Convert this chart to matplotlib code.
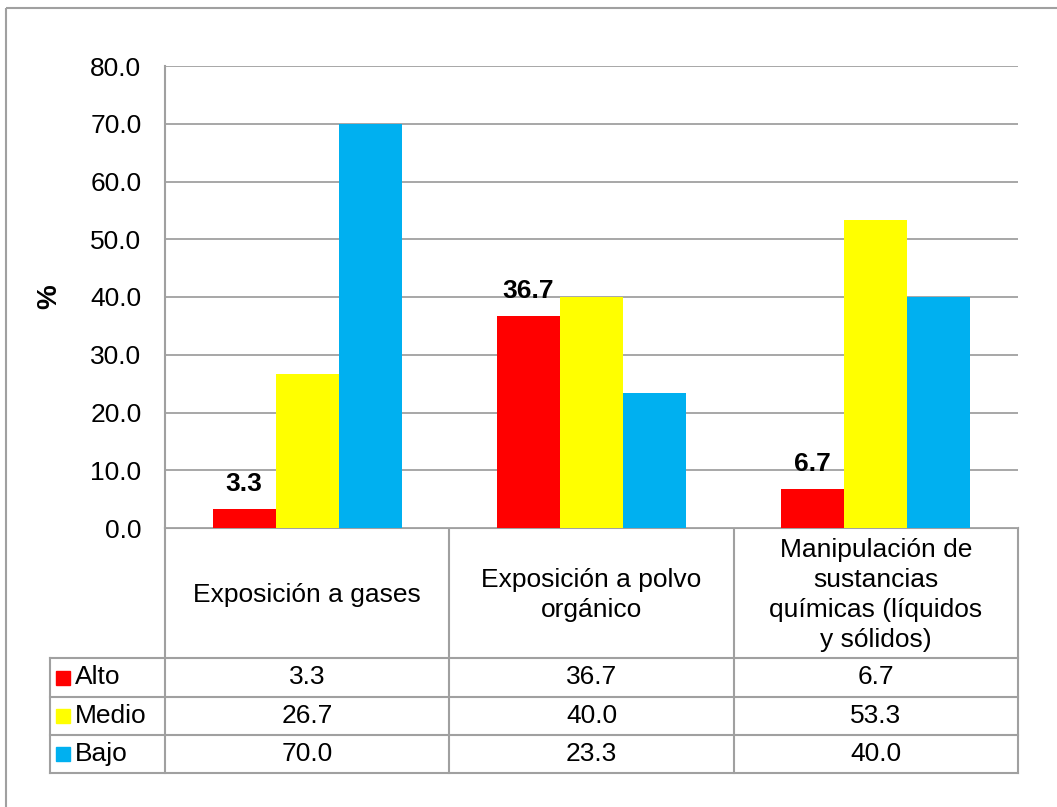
import matplotlib.pyplot as plt
from matplotlib.patches import Rectangle
import numpy as np

plt.rcParams['font.family'] = ['Liberation Sans', 'DejaVu Sans']

categories = ['Exposición a gases', 'Exposición a polvo\norgánico',
              'Manipulación de\nsustancias\nquímicas (líquidos\ny sólidos)']
series = ['Alto', 'Medio', 'Bajo']
alto = [3.3, 36.7, 6.7]
medio = [26.7, 40.0, 53.3]
bajo = [70.0, 23.3, 40.0]
colors = ['#FF0000', '#FFFF00', '#00B0F0']
yticks = [0, 10, 20, 30, 40, 50, 60, 70, 80]

W, H = 1057, 807
fig = plt.figure(figsize=(W / 100, H / 100), dpi=100)
fig.patch.set_facecolor('white')

grey = '#A0A0A0'
fs = 19

# overlay in pixel coords for the data table and frame
ov = fig.add_axes([0, 0, 1, 1])
ov.set_xlim(0, W)
ov.set_ylim(H, 0)
ov.axis('off')

# main plot area
x0, x1, y0, y1 = 165, 1018, 66, 528
ax = fig.add_axes([x0 / W, 1 - y1 / H, (x1 - x0) / W, (y1 - y0) / H])
x = np.arange(len(categories))
w = 63 / ((x1 - x0) / 3)
vals = [alto, medio, bajo]
for i, (name, v) in enumerate(zip(series, vals)):
    ax.bar(x + (i - 1) * w, v, w, color=colors[i], zorder=3)

# labels on the Alto bars
for xi, v in zip(x, alto):
    ax.text(xi - w, v + 2.3, f'{v:.1f}', ha='center', va='bottom',
            fontsize=fs, fontweight='bold', zorder=4)

ax.set_xlim(-0.5, 2.5)
ax.set_ylim(0, 80)
ax.set_yticks(yticks)
ax.set_yticklabels([f'{t:.1f}' for t in yticks], fontsize=fs)
ax.tick_params(axis='y', length=0, pad=17)
ax.set_xticks([])
ax.grid(axis='y', color=grey, linewidth=1.3, zorder=0)
for s in ['top', 'right', 'bottom']:
    ax.spines[s].set_visible(False)
ax.spines['left'].set_color(grey)
ax.spines['left'].set_linewidth(1.5)
ax.set_ylabel('%', fontsize=fs + 1, fontweight='bold', labelpad=20)

# frame round the whole chart
ov.add_patch(Rectangle((6, 8), 1200, 1000, fill=False, edgecolor=grey,
                       linewidth=1.5, clip_on=False))

# data table
cols = [x0, x0 + (x1 - x0) / 3, x0 + 2 * (x1 - x0) / 3, x1]
rows = [528, 658, 697, 735, 773]
lw = 1.5
ov.plot([x0, x1], [rows[0], rows[0]], color=grey, lw=lw)
for r in rows[1:]:
    ov.plot([50, x1], [r, r], color=grey, lw=lw)
for c in cols:
    ov.plot([c, c], [rows[0], rows[-1]], color=grey, lw=lw)
ov.plot([50, 50], [rows[1], rows[-1]], color=grey, lw=lw)

for j, cat in enumerate(categories):
    cx = (cols[j] + cols[j + 1]) / 2
    ov.text(cx, (rows[0] + rows[1]) / 2 + 2, cat, ha='center', va='center',
            fontsize=fs, linespacing=1.3)
    for i, v in enumerate(vals):
        cy = (rows[i + 1] + rows[i + 2]) / 2
        ov.text(cx, cy, f'{v[j]:.1f}', ha='center', va='center', fontsize=fs)

for i, name in enumerate(series):
    cy = (rows[i + 1] + rows[i + 2]) / 2
    ov.add_patch(Rectangle((56, cy - 7), 14, 14, color=colors[i]))
    ov.text(75, cy, name, ha='left', va='center', fontsize=fs)

fig.savefig('out.png', dpi=100)
